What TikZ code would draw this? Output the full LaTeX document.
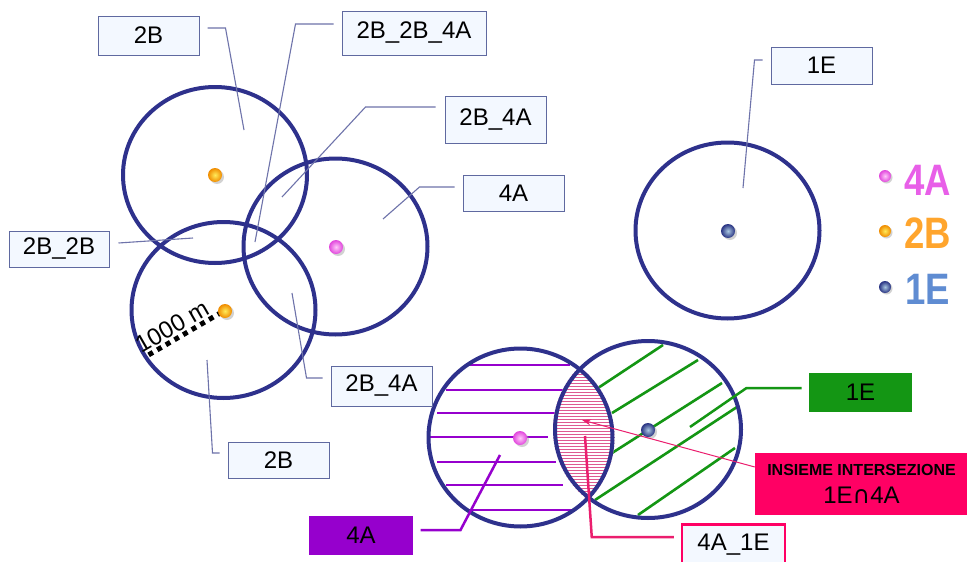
\documentclass[tikz,border=0pt]{standalone}
\usepackage{fontspec}
\setmainfont{Liberation Sans}
\newfontfamily\djv{DejaVu Sans}
\usetikzlibrary{arrows.meta}
\definecolor{navy}{RGB}{46,49,140}
\definecolor{leadc}{RGB}{110,115,170}
\definecolor{boxb}{RGB}{95,105,160}
\definecolor{boxf}{RGB}{243,248,255}
\definecolor{purp}{RGB}{150,0,205}
\definecolor{grn}{RGB}{20,150,20}
\definecolor{crim}{RGB}{255,0,100}
\definecolor{crimline}{RGB}{235,30,110}
\definecolor{lenscol}{RGB}{222,90,145}
\definecolor{pinkin}{RGB}{255,200,250}
\definecolor{pinkout}{RGB}{225,70,220}
\definecolor{orin}{RGB}{255,235,90}
\definecolor{orout}{RGB}{240,140,0}
\definecolor{bluin}{RGB}{170,200,225}
\definecolor{bluout}{RGB}{40,50,130}
\definecolor{legA}{RGB}{232,95,232}
\definecolor{legB}{RGB}{255,165,45}
\definecolor{legE}{RGB}{95,140,210}
\begin{document}
\begin{tikzpicture}[x=1pt,y=-1pt,
  ring/.style={draw=navy,line width=4pt},
  lbl/.style={draw=boxb,fill=boxf,line width=1pt,font=\fontsize{24}{28}\selectfont,inner sep=0pt},
  leader/.style={draw=leadc,line width=1.1pt},
  hatchp/.style={draw=purp,line width=2.6pt},
  hatchg/.style={draw=grn,line width=2.6pt},
  pinkdot/.style={inner color=pinkin,outer color=pinkout},
  oradot/.style={inner color=orin,outer color=orout},
  bludot/.style={inner color=bluin,outer color=bluout},
  dotshadow/.style={fill=black!35,opacity=0.5},
  legfont/.style={font=\bfseries\fontsize{44}{48}\selectfont,xscale=0.83,inner sep=0pt},
]
\useasboundingbox (0,0) rectangle (967,562);
\fill[white] (0,0) rectangle (967,562);

% ---- hatch of bottom circles
\draw[hatchp] (469,365) -- (570,365);
\draw[hatchp] (446,390) -- (565,390);
\draw[hatchp] (437,413) -- (563,413);
\draw[hatchp] (430,437) -- (548,437);
\draw[hatchp] (437,462) -- (556,462);
\draw[hatchp] (446,485) -- (563,485);
\draw[hatchp] (469,510) -- (572,510);

\draw[hatchg] (598,388) -- (663,345);
\draw[hatchg] (612,413) -- (698,360);
\draw[hatchg] (612,453) -- (722,383);
\draw[hatchg] (595,500) -- (737,407);
\draw[hatchg] (638,515) -- (735,448);

% ---- lens
\begin{scope}
\clip (520.5,437.5) ellipse [x radius=94pt,y radius=91pt];
\clip (648,429.5) ellipse [x radius=95pt,y radius=91pt];
\fill[white] (540,330) rectangle (625,540);
\foreach \yy in {344,347,...,530} \draw[lenscol,line width=0.9pt] (540,\yy) -- (625,\yy);
\end{scope}

% ---- circles
\draw[ring] (215,175) ellipse [x radius=92pt,y radius=88pt];
\draw[ring] (335.5,246.5) ellipse [x radius=92pt,y radius=88pt];
\draw[ring] (223.5,310) ellipse [x radius=92pt,y radius=88pt];
\draw[ring] (727.5,230.5) ellipse [x radius=92pt,y radius=88pt];
\draw[ring] (520.5,437.5) ellipse [x radius=92pt,y radius=89pt];
\draw[ring] (648,429.5) ellipse [x radius=93pt,y radius=88.5pt];

% ---- scale
\draw[black,line width=5pt,dash pattern=on 5pt off 5pt] (222,312) -- (145,357);
\node[rotate=30,anchor=south,inner sep=4.5pt,font=\fontsize{24}{28}\selectfont] (t1000) at (178.5,338) {1000 m};

% ---- dots
\foreach \px/\py/\st in {215/175/oradot,225/311/oradot,336/247/pinkdot,520/438/pinkdot,728/231/bludot,648/430/bludot}{
  \fill[dotshadow] (\px+2,\py+2) circle (7pt);
  \shade[\st] (\px,\py) circle (7pt);
}
\foreach \px/\py/\st in {885/176/pinkdot,885/231/oradot,885/287/bludot}{
  \fill[dotshadow] (\px+1.5,\py+1.5) circle (6pt);
  \shade[\st] (\px,\py) circle (6pt);
}

% ---- label boxes
\node[lbl,minimum width=101pt,minimum height=39pt] (b2Bt) at (148.5,35.5) {2B};
\node[lbl,minimum width=144pt,minimum height=44pt] (b2B2B4A) at (414,33) {2B\_2B\_4A};
\node[lbl,minimum width=101pt,minimum height=47pt] (b2B4At) at (495.5,119.5) {2B\_4A};
\node[lbl,minimum width=101pt,minimum height=36pt] (b4At) at (513.5,193) {4A};
\node[lbl,minimum width=100pt,minimum height=36pt] (b2B2B) at (59,249) {2B\_2B};
\node[lbl,minimum width=101pt,minimum height=37pt] (b1Et) at (821.5,65.5) {1E};
\node[lbl,minimum width=101pt,minimum height=40pt] (b2B4Ab) at (381.5,386) {2B\_4A};
\node[lbl,minimum width=101pt,minimum height=36pt] (b2Bb) at (278.5,460) {2B};
\node[lbl,draw=none,fill=purp,minimum width=104pt,minimum height=39pt] (b4Ap) at (361,535.5) {4A};
\node[lbl,draw=none,fill=grn,minimum width=103pt,minimum height=39pt] (b1Eg) at (860.5,392.5) {1E};
\node[lbl,draw=crim,line width=2.5pt,minimum width=103pt,minimum height=41pt] (b4A1E) at (733.5,545) {4A\_1E};
\node[draw=none,fill=crim,minimum width=213pt,minimum height=62pt,inner sep=0pt,align=center,
      font=\fontsize{24}{28}\selectfont] (bInt) at (861.5,484)
  {{\bfseries\fontsize{16}{18}\selectfont INSIEME INTERSEZIONE}\\1E{\djv ∩}4A};

% ---- leader end points
\coordinate (e2Bt) at (244,130);
\coordinate (e2B2B4A) at (255,242);
\coordinate (e2B4At) at (282,197);
\coordinate (e4At) at (383,219);
\coordinate (e2B2B) at (193,238);
\coordinate (e1Et) at (743,188);
\coordinate (e2B4Ab) at (292,293);
\coordinate (e2Bb) at (207,360);
\coordinate (e4Ap) at (500,455);
\coordinate (e1Eg) at (690,427);
\coordinate (eInt) at (582,420);
\coordinate (e4A1E) at (585,436);

\draw[leader] ([xshift=8pt,yshift=7.5pt]b2Bt.east) -- ++(18,0) -- (e2Bt);
\draw[leader] ([xshift=-8pt,yshift=9pt]b2B2B4A.west) -- ++(-38,0) -- (e2B2B4A);
\draw[leader] ([xshift=-9pt,yshift=12.5pt]b2B4At.west) -- ++(-70,0) -- (e2B4At);
\draw[leader] ([xshift=-8pt,yshift=6pt]b4At.west) -- ++(-35,0) -- (e4At);
\draw[leader] ([xshift=9pt,yshift=6pt]b2B2B.east) -- (e2B2B);
\draw[leader] ([xshift=-8pt,yshift=5.5pt]b1Et.west) -- ++(-8,0) -- (e1Et);
\draw[leader] ([xshift=-8pt,yshift=8pt]b2B4Ab.west) -- ++(-16,0) -- (e2B4Ab);
\draw[leader] ([xshift=-8pt,yshift=7pt]b2Bb.west) -- ++(-7,0) -- (e2Bb);
\draw[purp,line width=2.5pt] ([xshift=7pt,yshift=5.5pt]b4Ap.east) -- ++(40,0) -- (e4Ap);
\draw[grn,line width=2.5pt] ([xshift=-7pt,yshift=4.5pt]b1Eg.west) -- ++(-55,0) -- (e1Eg);
\draw[crimline,line width=2.5pt] ([xshift=-7pt,yshift=8pt]b4A1E.west) -- ++(-82,0) -- (e4A1E);
\draw[crimline,line width=1pt,-{Stealth[length=9pt,width=6pt]}] ([yshift=17pt]bInt.west) -- (eInt);

% ---- legend
\node[legfont,text=legA] (lgA) at (928,180) {4A};
\node[legfont,text=legB] (lgB) at (928,233) {2B};
\node[legfont,text=legE] (lgE) at (928,289) {1E};
\end{tikzpicture}
\end{document}
